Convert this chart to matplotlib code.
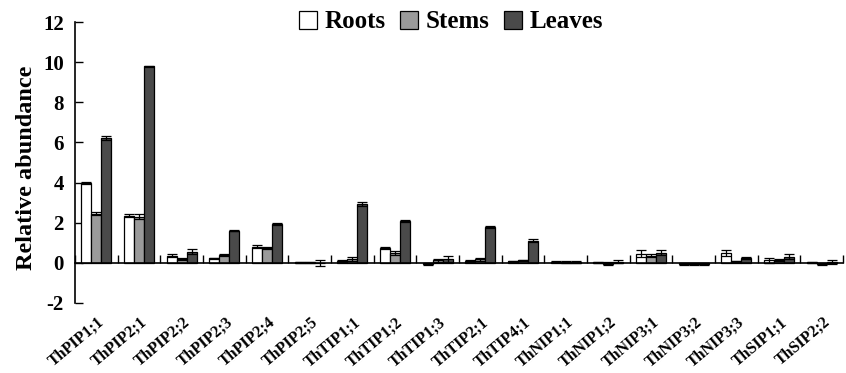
import numpy as np
import matplotlib.pyplot as plt
from matplotlib.patches import Patch

plt.rcParams['font.family'] = 'Liberation Serif'
plt.rcParams['font.weight'] = 'bold'
plt.rcParams['axes.unicode_minus'] = False

genes = ['ThPIP1;1', 'ThPIP2;1', 'ThPIP2;2', 'ThPIP2;3', 'ThPIP2;4', 'ThPIP2;5',
         'ThTIP1;1', 'ThTIP1;2', 'ThTIP1;3', 'ThTIP2;1', 'ThTIP4;1', 'ThNIP1;1',
         'ThNIP1;2', 'ThNIP3;1', 'ThNIP3;2', 'ThNIP3;3', 'ThSIP1;1', 'ThSIP2;2']

roots = [4.0, 2.35, 0.35, 0.22, 0.8, 0.02, 0.1, 0.72, -0.07, 0.1, 0.08, 0.05,
         0.02, 0.45, -0.05, 0.48, 0.12, 0.02]
stems = [2.45, 2.3, 0.18, 0.37, 0.74, 0.03, 0.18, 0.5, 0.12, 0.18, 0.12, 0.04,
         -0.04, 0.35, -0.05, 0.08, 0.15, -0.04]
leaves = [6.2, 9.8, 0.55, 1.6, 1.93, 0.0, 2.95, 2.1, 0.2, 1.77, 1.1, 0.02,
          0.06, 0.5, -0.05, 0.25, 0.3, 0.04]

roots_err = [0.05, 0.06, 0.08, 0.04, 0.08, 0.02, 0.06, 0.05, 0.04, 0.04, 0.03, 0.03,
             0.03, 0.18, 0.04, 0.15, 0.12, 0.03]
stems_err = [0.08, 0.12, 0.04, 0.05, 0.03, 0.02, 0.1, 0.1, 0.06, 0.08, 0.03, 0.04,
             0.06, 0.08, 0.05, 0.03, 0.05, 0.05]
leaves_err = [0.1, 0.03, 0.12, 0.03, 0.04, 0.15, 0.1, 0.05, 0.16, 0.05, 0.08, 0.05,
              0.08, 0.12, 0.05, 0.06, 0.12, 0.1]

series = ['Roots', 'Stems', 'Leaves']
colors = ['white', '#9a9a9a', '#4a4a4a']

fig = plt.figure(figsize=(8.46, 3.73), dpi=100)
ax = fig.add_axes([75/846, 1-303/373, (843-75)/846, (303-22)/373])

x = np.arange(len(genes))
w = 0.235
for k, (vals, errs) in enumerate([(roots, roots_err), (stems, stems_err), (leaves, leaves_err)]):
    ax.bar(x + (k-1)*w, vals, w, color=colors[k], edgecolor='black', linewidth=0.9,
           yerr=errs, capsize=3.5, error_kw=dict(elinewidth=0.9, capthick=0.9, ecolor='black'),
           zorder=2)

ax.set_xlim(-0.5, len(genes)-0.5)
ax.set_ylim(-2, 12)
ax.set_yticks(np.arange(-2, 13, 2))
ax.spines['top'].set_visible(False)
ax.spines['right'].set_visible(False)
ax.spines['bottom'].set_position(('data', 0))
ax.spines['left'].set_linewidth(1.2)
ax.spines['bottom'].set_linewidth(1.2)
ax.set_xticks(np.arange(-0.5, len(genes)))
ax.set_xticklabels([])
ax.tick_params(axis='x', direction='in', length=6, width=1)
ax.tick_params(axis='y', direction='in', length=6, width=1, labelsize=15, pad=8)
for t in ax.get_yticklabels():
    t.set_fontweight('bold')
ax.set_ylabel('Relative abundance', fontsize=17.5, fontweight='bold')
ax.yaxis.set_label_coords(-0.049, 0.482)

for i, g in enumerate(genes):
    ax.text(i + 0.02, -2.55, g, rotation=40, ha='right', va='top', rotation_mode='anchor',
            fontsize=11.5, fontweight='bold', clip_on=False)

handles = [Patch(facecolor=c, edgecolor='black', linewidth=0.9) for c in colors]
fig.legend(handles, series, loc='center', bbox_to_anchor=(451/846, 1-22/373), ncol=3,
           frameon=False, prop=dict(size=18, weight='bold'), handlelength=0.7,
           handleheight=0.7, handletextpad=0.3, columnspacing=0.6, borderpad=0)

fig.savefig('out.png', dpi=100)
